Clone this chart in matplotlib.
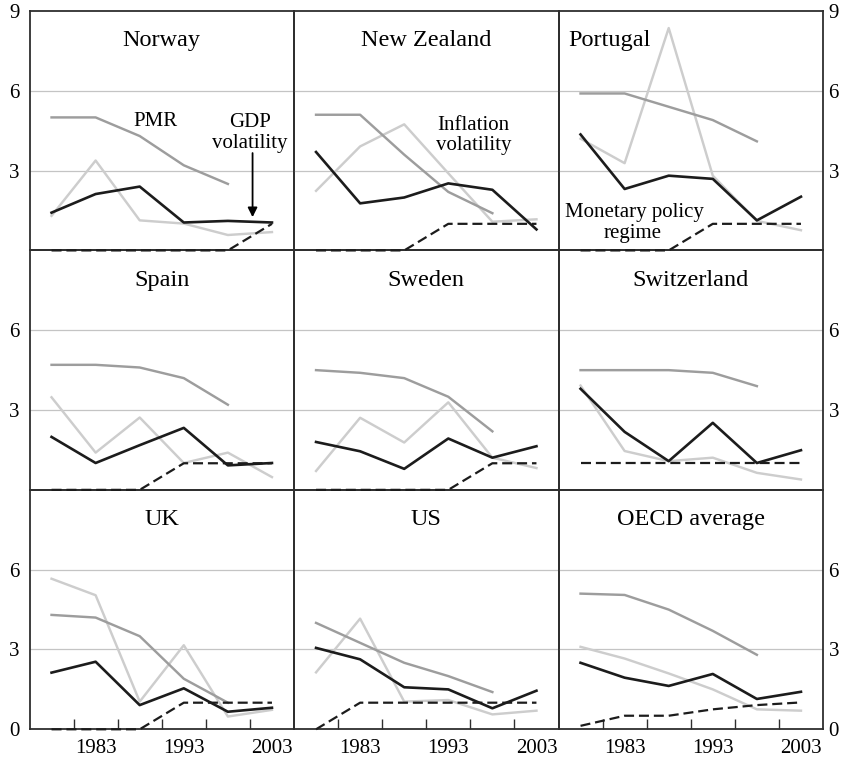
import numpy as np
import matplotlib
matplotlib.use("Agg")
import matplotlib.pyplot as plt

plt.rcParams['font.family'] = ['Liberation Serif', 'DejaVu Serif']

years = ['1978', '1983', '1988', '1993', '1998', '2003']
label_years = ['1983', '1993', '2003']
countries = ['Norway', 'New Zealand', 'Portugal', 'Spain', 'Sweden',
             'Switzerland', 'UK', 'US', 'OECD average']

# PMR (ends 1998)
pmr = [
    [5.0, 5.0, 4.3, 3.2, 2.5],
    [5.1, 5.1, 3.6, 2.2, 1.4],
    [5.9, 5.9, 5.4, 4.9, 4.1],
    [4.7, 4.7, 4.6, 4.2, 3.2],
    [4.5, 4.4, 4.2, 3.5, 2.2],
    [4.5, 4.5, 4.5, 4.4, 3.9],
    [4.3, 4.2, 3.5, 1.9, 1.0],
    [4.0, 3.25, 2.5, 2.0, 1.4],
    [5.1, 5.05, 4.5, 3.7, 2.8],
]
# GDP volatility
gdp_vol = [
    [1.42, 2.12, 2.40, 1.05, 1.11, 1.05],
    [3.70, 1.77, 1.99, 2.52, 2.28, 0.79],
    [4.36, 2.31, 2.81, 2.69, 1.13, 2.02],
    [1.99, 1.01, 1.68, 2.33, 0.92, 1.01],
    [1.80, 1.45, 0.79, 1.93, 1.21, 1.64],
    [3.80, 2.18, 1.08, 2.52, 1.01, 1.49],
    [2.13, 2.54, 0.91, 1.54, 0.66, 0.81],
    [3.06, 2.63, 1.58, 1.50, 0.79, 1.45],
    [2.50, 1.94, 1.63, 2.08, 1.14, 1.41],
]
# Inflation volatility
infl_vol = [
    [1.30, 3.38, 1.13, 1.01, 0.58, 0.69],
    [2.24, 3.91, 4.74, 2.90, 1.08, 1.17],
    [4.20, 3.28, 8.36, 2.81, 1.11, 0.76],
    [3.48, 1.40, 2.72, 1.01, 1.40, 0.48],
    [0.71, 2.71, 1.78, 3.29, 1.21, 0.82],
    [3.92, 1.46, 1.08, 1.21, 0.64, 0.39],
    [5.66, 5.04, 1.04, 3.16, 0.48, 0.73],
    [2.14, 4.16, 1.04, 1.10, 0.56, 0.70],
    [3.10, 2.66, 2.10, 1.50, 0.75, 0.70],
]
# Monetary policy regime
mon_regime = [
    [0, 0, 0, 0, 0, 1],
    [0, 0, 0, 1, 1, 1],
    [0, 0, 0, 1, 1, 1],
    [0, 0, 0, 1, 1, 1],
    [0, 0, 0, 0, 1, 1],
    [1, 1, 1, 1, 1, 1],
    [0, 0, 0, 1, 1, 1],
    [0, 1, 1, 1, 1, 1],
    [0.13, 0.51, 0.51, 0.75, 0.91, 1.01],
]

C_GDP = '#1c1c1c'
C_PMR = '#9d9d9d'
C_INF = '#cdcdcd'
C_GRID = '#c4c4c4'
C_SPINE = '#2e2e2e'

fig = plt.figure(figsize=(8.47, 7.61), dpi=100)
L, R, B, T = 29.5 / 847, 823 / 847, 1 - 729.3 / 761, 1 - 11 / 761
gs = fig.add_gridspec(3, 3, left=L, right=R, bottom=B, top=T,
                      wspace=0, hspace=0)

xpos = np.arange(len(years)) + 0.5
title_x = [3.0, 3.0, 1.15, 3.0, 3.0, 3.0, 3.0, 3.0, 3.0]
FS_T = 17.5
FS = 15

for i, name in enumerate(countries):
    r, c = divmod(i, 3)
    ax = fig.add_subplot(gs[r, c])
    ax.set_zorder(10 - r)
    ax.patch.set_visible(False)
    ax.set_xlim(0, len(years))
    ax.set_ylim(0, 9)
    for gy in (3, 6):
        ax.axhline(gy, color=C_GRID, lw=0.9, zorder=1)

    ax.plot(xpos, infl_vol[i], color=C_INF, lw=1.75, zorder=3)
    ax.plot(xpos[:len(pmr[i])], pmr[i], color=C_PMR, lw=1.75, zorder=4)
    ax.plot(xpos, mon_regime[i], color=C_GDP, lw=1.6, ls=(0, (4.5, 2.2)),
            zorder=5, clip_on=False)
    ax.plot(xpos, gdp_vol[i], color=C_GDP, lw=1.9, zorder=6)

    ax.text(title_x[i], 7.68, name, ha='center', va='baseline',
            fontsize=FS_T)

    for s in ax.spines.values():
        s.set_color(C_SPINE)
        s.set_linewidth(1.3)
        s.set_zorder(2)

    # y ticks
    if r == 0:
        yt = [3, 6, 9]
    elif r == 1:
        yt = [3, 6]
    else:
        yt = [0, 3, 6]
    ax.set_yticks(yt)
    ax.set_yticklabels([str(v) for v in yt])
    ax.tick_params(axis='y', length=0, labelsize=FS)
    if c == 0:
        ax.tick_params(axis='y', labelleft=True, labelright=False, pad=7)
    elif c == 2:
        ax.tick_params(axis='y', labelleft=False, labelright=True, pad=4)
    else:
        ax.tick_params(axis='y', labelleft=False, labelright=False)

    # x ticks
    if r == 2:
        ax.set_xticks(np.arange(1, len(years)))
        ax.set_xticklabels([])
        ax.tick_params(axis='x', which='major', direction='in', length=7.5,
                       width=1.0, color=C_SPINE)
        ax.set_xticks([xpos[years.index(y)] for y in label_years], minor=True)
        ax.set_xticklabels(label_years, minor=True)
        ax.tick_params(axis='x', which='minor', length=0, labelsize=FS,
                       pad=7)
    else:
        ax.set_xticks([])

    if name == 'Norway':
        ax.text(2.85, 4.68, 'PMR', ha='center', va='baseline', fontsize=FS)
        ax.text(5.0, 4.63, 'GDP', ha='center', va='baseline', fontsize=FS)
        ax.text(5.0, 3.85, 'volatility', ha='center', va='baseline',
                fontsize=FS)
        ax.annotate('', xy=(5.06, 1.25), xytext=(5.06, 3.66),
                    arrowprops=dict(arrowstyle='-|>', color='black', lw=1.3,
                                    mutation_scale=14, shrinkA=0, shrinkB=0),
                    zorder=7)
    if name == 'New Zealand':
        ax.text(4.07, 4.53, 'Inflation', ha='center', va='baseline',
                fontsize=FS)
        ax.text(4.07, 3.77, 'volatility', ha='center', va='baseline',
                fontsize=FS)
    if name == 'Portugal':
        ax.text(1.72, 1.27, 'Monetary policy', ha='center', va='baseline',
                fontsize=FS)
        ax.text(1.68, 0.45, 'regime', ha='center', va='baseline',
                fontsize=FS)

fig.savefig('out.png', dpi=100)
